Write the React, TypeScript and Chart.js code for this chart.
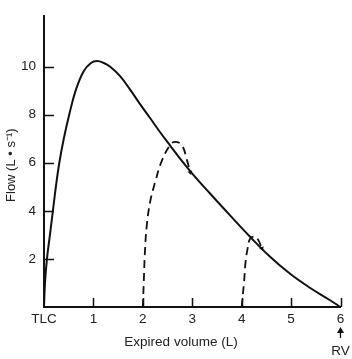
import React, { useEffect, useRef } from "react";
import { Chart, registerables } from "chart.js";

Chart.register(...registerables);

// Main flow-volume curve (maximal effort)
const mainVolume = [0, 0.02, 0.06, 0.12, 0.18, 0.24, 0.31, 0.4, 0.51, 0.64, 0.8, 0.95, 1.07, 1.2, 1.34, 1.54, 1.74, 1.94, 2.15, 2.35, 2.55, 2.75, 3.0, 3.36, 3.77, 4.17, 4.57, 4.98, 5.38, 5.79, 6.0];
const mainFlow = [0, 1, 2, 3, 4, 5, 6, 7, 8, 9, 9.8, 10.15, 10.23, 10.16, 9.99, 9.6, 9.05, 8.45, 7.85, 7.27, 6.72, 6.18, 5.55, 4.72, 3.8, 2.92, 2.1, 1.38, 0.8, 0.28, 0];

// Dashed partial-effort curves
const dash1Volume = [2, 2.02, 2.04, 2.08, 2.15, 2.25, 2.38, 2.55, 2.65, 2.79, 2.89, 2.96];
const dash1Flow = [0, 1.09, 2.2, 3.4, 4.4, 5.2, 6.06, 6.73, 6.87, 6.73, 6.13, 5.6];
const dash2Volume = [4, 4.05, 4.08, 4.12, 4.17, 4.27, 4.34, 4.41];
const dash2Flow = [0, 1.09, 1.9, 2.43, 2.84, 2.93, 2.77, 2.43];

const yTickValues = [2, 4, 6, 8, 10];
const xTickValues = [0, 1, 2, 3, 4, 5, 6];
const xTickLabels = ["TLC", "1", "2", "3", "4", "5", "6"];

const xTitle = "Expired volume (L)";
const yTitle = "Flow (L \u2022 s\u207B\u00B9)";
const rvLabel = "RV";

const FONT = "'Liberation Sans', Arial, Helvetica, sans-serif";
const INK = "#111";
const TEXT = "#222";

const toPoints = (xs: number[], ys: number[]) => xs.map((x, i) => ({ x, y: ys[i] }));

const decorPlugin = {
  id: "decor",
  afterDraw(chart: any) {
    const { ctx } = chart;
    const xs = chart.scales.x;
    const ys = chart.scales.y;
    const left = xs.left;
    const bottom = ys.bottom;
    ctx.save();
    ctx.strokeStyle = INK;
    ctx.lineWidth = 1.5;
    ctx.beginPath();
    for (const v of yTickValues) {
      const py = Math.round(ys.getPixelForValue(v)) + 0.5;
      ctx.moveTo(left, py);
      ctx.lineTo(left + 10, py);
    }
    for (const v of xTickValues) {
      if (v === 0) continue;
      const px = Math.round(xs.getPixelForValue(v)) + 0.5;
      ctx.moveTo(px, bottom);
      ctx.lineTo(px, bottom - 9);
    }
    ctx.stroke();

    // RV marker under the last volume tick
    const rx = xs.getPixelForValue(xTickValues[xTickValues.length - 1]);
    ctx.lineWidth = 1.3;
    ctx.beginPath();
    ctx.moveTo(rx, 338);
    ctx.lineTo(rx, 331);
    ctx.stroke();
    ctx.fillStyle = INK;
    ctx.beginPath();
    ctx.moveTo(rx, 327);
    ctx.lineTo(rx - 3.5, 333);
    ctx.lineTo(rx + 3.5, 333);
    ctx.closePath();
    ctx.fill();
    ctx.fillStyle = TEXT;
    ctx.font = `13.5px ${FONT}`;
    ctx.textAlign = "center";
    ctx.textBaseline = "middle";
    ctx.fillText(rvLabel, rx, 351);
    ctx.restore();
  },
};

export default function App() {
  const ref = useRef<HTMLCanvasElement | null>(null);

  useEffect(() => {
    if (!ref.current) return;
    const lastRadius = (n: number) => Array.from({ length: n }, (_, i) => (i === n - 1 ? 2.8 : 0));
    const chart = new Chart(ref.current, {
      type: "line",
      data: {
        datasets: [
          {
            data: toPoints(mainVolume, mainFlow),
            borderColor: INK,
            borderWidth: 2,
            pointRadius: 0,
            tension: 0.4,
            fill: false,
            clip: false,
          } as any,
          {
            data: toPoints(dash1Volume, dash1Flow),
            borderColor: INK,
            borderWidth: 1.8,
            borderDash: [8, 5],
            pointRadius: lastRadius(dash1Volume.length),
            pointStyle: "triangle",
            rotation: 165,
            pointBackgroundColor: INK,
            pointBorderColor: INK,
            pointBorderWidth: 0,
            tension: 0.4,
            fill: false,
            clip: false,
          } as any,
          {
            data: toPoints(dash2Volume, dash2Flow),
            borderColor: INK,
            borderWidth: 1.8,
            borderDash: [8, 5],
            pointRadius: lastRadius(dash2Volume.length),
            pointStyle: "triangle",
            rotation: 155,
            pointBackgroundColor: INK,
            pointBorderColor: INK,
            pointBorderWidth: 0,
            tension: 0.4,
            fill: false,
            clip: false,
          } as any,
        ],
      },
      options: {
        responsive: false,
        animation: false,
        events: [],
        layout: { padding: { top: 7, right: 11.5, left: 0, bottom: 0 } },
        plugins: {
          legend: { display: false },
          tooltip: { enabled: false },
          title: { display: false },
        },
        scales: {
          x: {
            type: "linear",
            min: 0,
            max: 6,
            afterFit: (s: any) => {
              s.height = 52;
            },
            afterBuildTicks: (s: any) => {
              s.ticks = xTickValues.map((v) => ({ value: v }));
            },
            ticks: {
              autoSkip: false,
              maxRotation: 0,
              padding: 4,
              color: TEXT,
              font: { family: FONT, size: 13.5 },
              callback: (v: any) => {
                const i = xTickValues.indexOf(Number(v));
                return i >= 0 ? xTickLabels[i] : "";
              },
            },
            grid: { display: false, drawTicks: false },
            border: { display: true, color: INK, width: 2 },
            title: {
              display: true,
              text: xTitle + "      ",
              color: TEXT,
              font: { family: FONT, size: 13.5 },
              padding: { top: 0, bottom: 9 },
            },
          },
          y: {
            type: "linear",
            min: 0,
            max: 12.1,
            afterFit: (s: any) => {
              s.width = 44;
            },
            afterBuildTicks: (s: any) => {
              s.ticks = yTickValues.map((v) => ({ value: v }));
            },
            ticks: {
              autoSkip: false,
              padding: 8,
              color: TEXT,
              font: { family: FONT, size: 13.5 },
              callback: (v: any) => String(v),
            },
            grid: { display: false, drawTicks: false },
            border: { display: true, color: INK, width: 2 },
            title: {
              display: true,
              text: yTitle + "  ",
              color: TEXT,
              font: { family: FONT, size: 13 },
              padding: { top: 4, bottom: 0 },
            },
          },
        },
      } as any,
      plugins: [decorPlugin],
    });
    return () => chart.destroy();
  }, []);

  return (
    <div style={{ position: "absolute", left: 0, top: 0, width: 352, height: 359, background: "#fff" }}>
      <canvas ref={ref} width={352} height={359} style={{ display: "block" }} />
    </div>
  );
}
